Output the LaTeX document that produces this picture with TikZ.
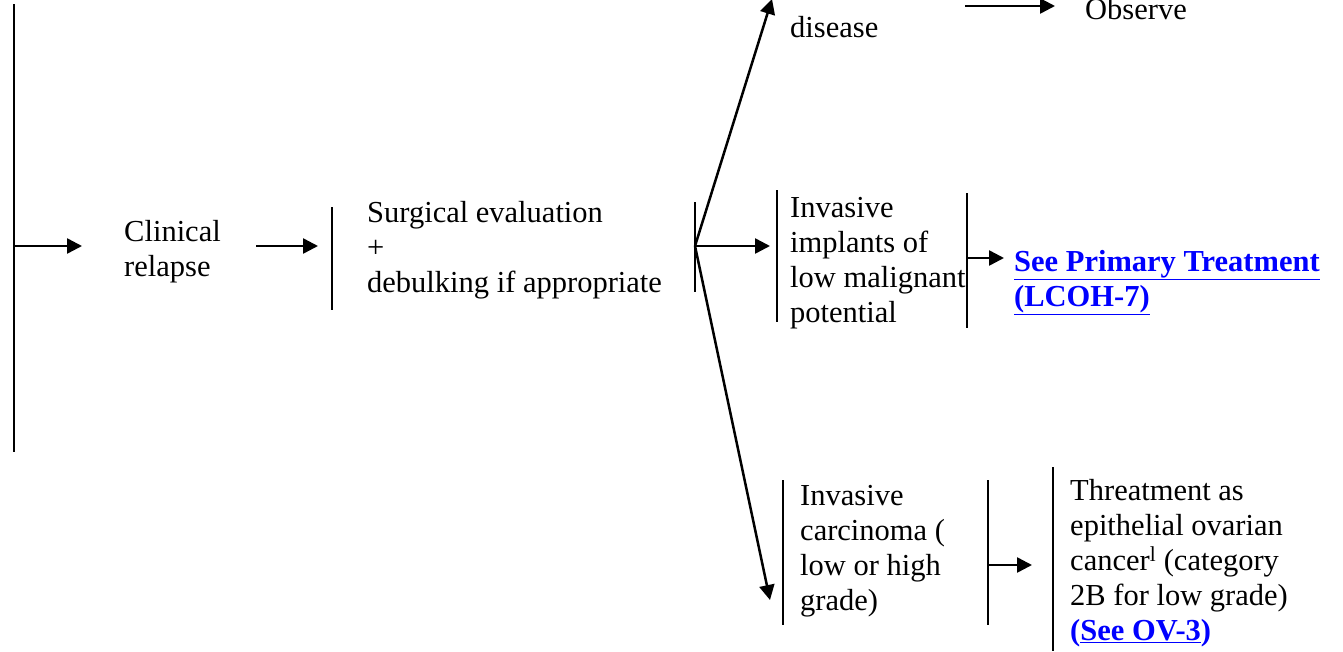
\documentclass[tikz,border=0pt]{standalone}
\usepackage{fontspec}
\setmainfont{Liberation Serif}
\usetikzlibrary{arrows.meta}
\definecolor{linkblue}{RGB}{0,0,255}
\newcommand{\lnk}[1]{\textcolor{linkblue}{\textbf{\underline{#1}}}}
\begin{document}
\begin{tikzpicture}[x=1pt,y=-1pt,
  lbl/.style={anchor=north west, inner sep=0pt, align=left,
              font=\fontsize{30.5}{35}\selectfont},
  bar/.style={line width=1.5pt},
  arr/.style={line width=2.5pt, -{Triangle[length=15pt,width=15pt]}},
]
\useasboundingbox (0,0) rectangle (1343,651);

% text blocks (top = first baseline - 24.5)
\node[lbl] (disease) at (790,12.5)  {\strut disease};
\node[lbl] (observe) at (1085,-5.5) {\strut Observe};
\node[lbl] (clin)    at (124,216.5) {\strut Clinical\\relapse};
\node[lbl] (surg)    at (367,197.5) {\strut Surgical evaluation\\+\\debulking if appropriate};
\node[lbl] (impl)    at (790,192.5) {\strut Invasive\\implants of\\low malignant\\potential};
\node[lbl] (seeprim) at (1014,246.5) {\strut\lnk{See Primary Treatment}\\\lnk{(LCOH-7)}};
\node[lbl] (carc)    at (800,480.5) {\strut Invasive\\carcinoma (\\low or high\\grade)};
\node[lbl] (treat)   at (1070,475.5) {\strut Threatment as\\epithelial ovarian\\cancer\textsuperscript{l} (category\\2B for low grade)\\\textcolor{linkblue}{\textbf{(\underline{See OV-3})}}};

% bracket bars
\coordinate (trunkT) at (14,4);      \coordinate (trunkB) at (14,452);
\coordinate (surgT)  at (332,207);   \coordinate (surgB)  at (332,310);
\coordinate (brT)    at (695,202);   \coordinate (brB)    at (695,292);
\coordinate (implT)  at (777,190);   \coordinate (implB)  at (777,322);
\coordinate (impl2T) at (967,193);   \coordinate (impl2B) at (967,328);
\coordinate (carcT)  at (783,480);   \coordinate (carcB)  at (783,625);
\coordinate (carc2T) at (988,480);   \coordinate (carc2B) at (988,625);
\coordinate (treatT) at (1053,467);  \coordinate (treatB) at (1053,651);
\foreach \t/\b in {trunkT/trunkB,surgT/surgB,brT/brB,implT/implB,
                   impl2T/impl2B,carcT/carcB,carc2T/carc2B,treatT/treatB}
  \draw[bar] (\t) -- (\b);

% arrow ends
\coordinate (a1s) at (14,246);   \coordinate (a1e) at (82,246);
\coordinate (a2s) at (256,246);  \coordinate (a2e) at (318,246);
\coordinate (br)  at (695,246);
\coordinate (upE) at (772,-1);
\coordinate (midE) at (770,246);
\coordinate (dnE) at (770,600);
\coordinate (a3s) at (967,258);  \coordinate (a3e) at (1004,258);
\coordinate (a4s) at (988,565);  \coordinate (a4e) at (1032,565);
\coordinate (a5s) at (965,6);    \coordinate (a5e) at (1055,6);

\draw[arr] (a1s) -- (a1e);
\draw[arr] (a2s) -- (a2e);
\draw[arr] (br) -- (upE);
\draw[arr] (br) -- (midE);
\draw[arr] (br) -- (dnE);
\draw[arr] (a3s) -- (a3e);
\draw[arr] (a4s) -- (a4e);
\draw[arr] (a5s) -- (a5e);
\end{tikzpicture}
\end{document}
